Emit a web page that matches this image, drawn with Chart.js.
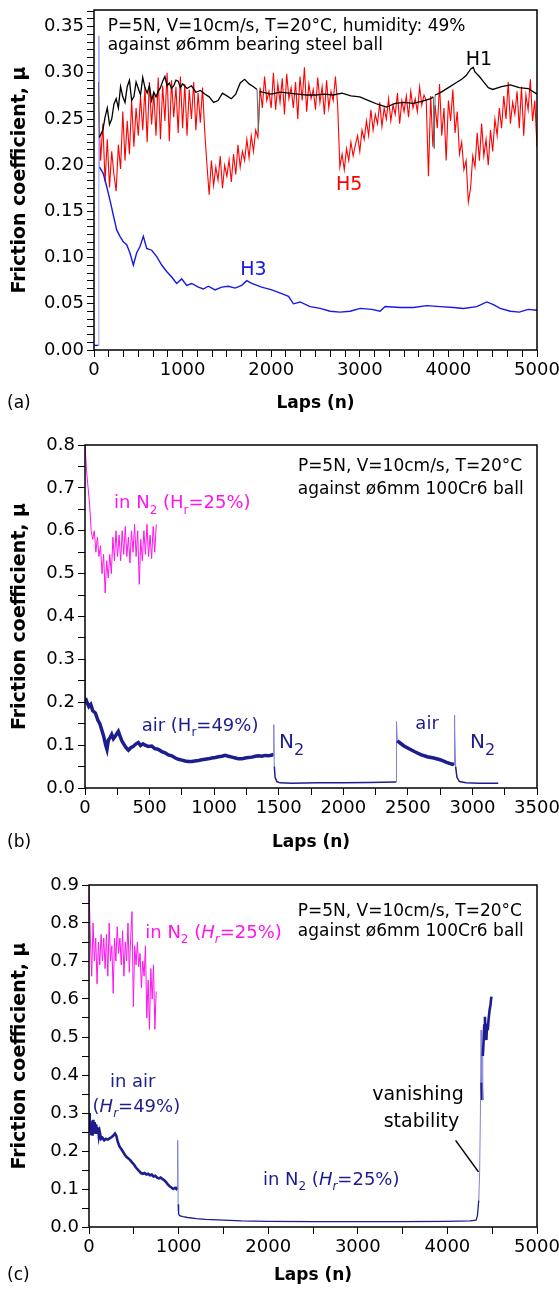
<!DOCTYPE html>
<html>
<head>
<meta charset="utf-8">
<script src="https://cdn.jsdelivr.net/npm/chart.js@4.4.1/dist/chart.umd.min.js"></script>
<style>
  html, body { margin: 0; padding: 0; background: #fff; }
  body { width: 559px; height: 1293px; position: relative; overflow: hidden; }
  canvas { position: absolute; left: 0; }
</style>
</head>
<body>
<canvas id="pa" width="559" height="430" style="top:0px"></canvas>
<canvas id="pb" width="559" height="430" style="top:430px"></canvas>
<canvas id="pc" width="559" height="433" style="top:860px"></canvas>
<script>
// ---- tick labels ----
const aXTicks = [0, 1000, 2000, 3000, 4000, 5000];
const aYTicks = [0, 0.05, 0.10, 0.15, 0.20, 0.25, 0.30, 0.35];
const bXTicks = [0, 500, 1000, 1500, 2000, 2500, 3000, 3500];
const bYTicks = [0, 0.1, 0.2, 0.3, 0.4, 0.5, 0.6, 0.7, 0.8];
const cXTicks = [0, 1000, 2000, 3000, 4000, 5000];
const cYTicks = [0, 0.1, 0.2, 0.3, 0.4, 0.5, 0.6, 0.7, 0.8, 0.9];

// ---- (a) H1, black ----
const h1Laps = [50, 60, 100, 125, 150, 175, 200, 225, 250, 275, 300, 325, 350, 375, 400, 425, 450, 475, 500, 525,
  550, 575, 600, 625, 650, 675, 700, 725, 750, 775, 800, 825, 850, 875, 900, 925, 950, 975, 1000, 1050,
  1100, 1150, 1200, 1250, 1300, 1350, 1400, 1450, 1500, 1550, 1600, 1650, 1700, 1750, 1800, 1840, 1855, 1870, 1900, 2000,
  2100, 2200, 2300, 2400, 2500, 2600, 2700, 2800, 2900, 3000, 3100, 3200, 3300, 3400, 3500, 3600, 3700, 3800, 3830, 3840,
  3850, 3900, 4000, 4100, 4150, 4200, 4250, 4280, 4300, 4350, 4400, 4450, 4500, 4600, 4700, 4800, 4900, 5000];
const h1Mu = [0.29, 0.23, 0.238, 0.252, 0.262, 0.244, 0.25, 0.266, 0.272, 0.262, 0.285, 0.274, 0.268, 0.285, 0.292, 0.27, 0.274, 0.29, 0.283, 0.276,
  0.295, 0.284, 0.278, 0.286, 0.27, 0.279, 0.274, 0.28, 0.284, 0.291, 0.296, 0.286, 0.289, 0.283, 0.286, 0.292, 0.291, 0.284, 0.288, 0.283,
  0.286, 0.279, 0.281, 0.277, 0.274, 0.268, 0.27, 0.278, 0.275, 0.272, 0.277, 0.289, 0.293, 0.288, 0.285, 0.282, 0.236, 0.28, 0.279, 0.277,
  0.279, 0.278, 0.277, 0.276, 0.276, 0.277, 0.276, 0.278, 0.275, 0.274, 0.27, 0.266, 0.263, 0.267, 0.268, 0.267, 0.269, 0.272, 0.274, 0.218,
  0.276, 0.278, 0.284, 0.29, 0.293, 0.297, 0.304, 0.306, 0.301, 0.296, 0.29, 0.284, 0.282, 0.285, 0.287, 0.284, 0.283, 0.277];

// ---- (a) H3, blue ----
const h3Laps = [0, 50, 55, 62, 105, 143, 181, 218, 256, 293, 331, 369, 406, 444, 481, 519, 557, 595, 651, 708,
  764, 820, 877, 933, 990, 1046, 1103, 1178, 1234, 1291, 1366, 1441, 1517, 1592, 1667, 1724, 1780, 1893, 2006, 2119,
  2195, 2251, 2326, 2439, 2552, 2665, 2778, 2891, 3004, 3135, 3229, 3285, 3455, 3606, 3756, 3907, 4057, 4170, 4320, 4433,
  4508, 4584, 4700, 4800, 4900, 5000];
const h3Mu = [0.005, 0.005, 0.34, 0.198, 0.191, 0.177, 0.162, 0.146, 0.13, 0.123, 0.117, 0.114, 0.105, 0.092, 0.105, 0.112, 0.123, 0.11, 0.108, 0.101,
  0.092, 0.085, 0.079, 0.072, 0.077, 0.07, 0.072, 0.068, 0.066, 0.069, 0.065, 0.068, 0.069, 0.067, 0.07, 0.075, 0.072, 0.068, 0.065, 0.061,
  0.058, 0.05, 0.052, 0.047, 0.045, 0.042, 0.041, 0.042, 0.045, 0.044, 0.042, 0.047, 0.046, 0.046, 0.048, 0.047, 0.046, 0.045, 0.047, 0.052,
  0.049, 0.045, 0.042, 0.041, 0.044, 0.043];

// ---- (a) H5, red (sampled every 25 laps from lap 50) ----
const h5Start = 50, h5Step = 25;
const h5Mu = [
  0.268, 0.205, 0.245, 0.182, 0.228, 0.176, 0.215, 0.19, 0.172, 0.222,
  0.196, 0.258, 0.205, 0.248, 0.212, 0.27, 0.22, 0.262, 0.232, 0.275,
  0.238, 0.284, 0.225, 0.29, 0.244, 0.278, 0.232, 0.295, 0.228, 0.286,
  0.248, 0.3, 0.226, 0.292, 0.252, 0.285, 0.235, 0.296, 0.24, 0.288,
  0.232, 0.282, 0.25, 0.29, 0.238, 0.278, 0.246, 0.284, 0.236, 0.2,
  0.168, 0.205, 0.178, 0.198, 0.184, 0.21, 0.175, 0.2, 0.188, 0.206,
  0.182, 0.212, 0.19, 0.222, 0.198, 0.215, 0.205, 0.228, 0.208, 0.232,
  0.215, 0.238, 0.23, 0.284, 0.262, 0.296, 0.27, 0.28, 0.262, 0.3,
  0.26, 0.288, 0.268, 0.294, 0.255, 0.299, 0.272, 0.284, 0.262, 0.29,
  0.25, 0.296, 0.27, 0.306, 0.258, 0.288, 0.272, 0.282, 0.26, 0.295,
  0.268, 0.285, 0.255, 0.292, 0.262, 0.28, 0.27, 0.296, 0.265, 0.198,
  0.212, 0.195, 0.218, 0.205, 0.225, 0.21, 0.222, 0.232, 0.215, 0.238,
  0.228, 0.248, 0.232, 0.26, 0.238, 0.255, 0.245, 0.268, 0.242, 0.262,
  0.25, 0.272, 0.248, 0.265, 0.255, 0.278, 0.245, 0.27, 0.258, 0.275,
  0.252, 0.28, 0.262, 0.272, 0.258, 0.285, 0.265, 0.276, 0.27, 0.188,
  0.275, 0.22, 0.265, 0.24, 0.288, 0.232, 0.262, 0.205, 0.27, 0.248,
  0.282, 0.235, 0.258, 0.212, 0.225, 0.195, 0.205, 0.16, 0.175, 0.21,
  0.198, 0.235, 0.205, 0.245, 0.21, 0.228, 0.2, 0.238, 0.215, 0.25,
  0.232, 0.262, 0.24, 0.275, 0.25, 0.29, 0.245, 0.268, 0.255, 0.28,
  0.24, 0.285, 0.232, 0.276, 0.26, 0.293, 0.248, 0.27, 0.22];

// ---- (b) in N2, magenta (every 12 laps from 0) ----
const bN2Start = 0, bN2Step = 12;
const bN2Mu = [0.8, 0.74, 0.7, 0.66, 0.6, 0.58, 0.6, 0.55, 0.585, 0.54,
  0.565, 0.5, 0.545, 0.455, 0.53, 0.49, 0.545, 0.5, 0.585, 0.53,
  0.6, 0.54, 0.59, 0.53, 0.6, 0.545, 0.61, 0.54, 0.585, 0.525,
  0.6, 0.55, 0.615, 0.54, 0.6, 0.475, 0.58, 0.53, 0.6, 0.545,
  0.615, 0.54, 0.59, 0.535, 0.61, 0.55, 0.615];

// ---- (b) air / N2 alternation, navy ----
const bAirLaps = [0, 4, 15, 30, 45, 60, 80, 100, 115, 130, 145, 160, 170, 181, 195, 207, 220, 233, 245, 258,
  270, 285, 297, 315, 336, 355, 374, 395, 413, 430, 448, 465, 490, 517, 540, 568, 595, 620, 645, 672,
  700, 723, 750, 775, 800, 827, 850, 879, 905, 930, 955, 982, 1010, 1034, 1060, 1085, 1110, 1137, 1165, 1189,
  1215, 1240, 1265, 1292, 1320, 1344, 1370, 1395, 1420, 1447, 1460, 1462, 1466, 1472, 1485, 1510, 1600, 1800, 2000, 2200,
  2410, 2412, 2418, 2440, 2470, 2506, 2550, 2600, 2650, 2700, 2750, 2800, 2845, 2858, 2860, 2864, 2870, 2880, 2900, 2950,
  3050, 3200];
const bAirMu = [0.3, 0.21, 0.2, 0.19, 0.195, 0.18, 0.175, 0.158, 0.15, 0.135, 0.12, 0.1, 0.09, 0.112, 0.118, 0.125, 0.115, 0.12, 0.126, 0.132,
  0.122, 0.11, 0.104, 0.095, 0.088, 0.094, 0.097, 0.103, 0.106, 0.099, 0.103, 0.1, 0.097, 0.098, 0.092, 0.09, 0.085, 0.082, 0.077, 0.075,
  0.07, 0.067, 0.065, 0.063, 0.062, 0.062, 0.063, 0.064, 0.066, 0.067, 0.068, 0.07, 0.071, 0.073, 0.074, 0.076, 0.074, 0.072, 0.07, 0.068,
  0.068, 0.07, 0.071, 0.072, 0.074, 0.075, 0.074, 0.076, 0.075, 0.077, 0.078, 0.148, 0.05, 0.025, 0.015, 0.012, 0.011, 0.012, 0.012, 0.013,
  0.014, 0.155, 0.11, 0.105, 0.098, 0.092, 0.085, 0.078, 0.073, 0.07, 0.066, 0.06, 0.055, 0.057, 0.17, 0.14, 0.05, 0.025, 0.015, 0.012,
  0.011, 0.011];

// ---- (c) in N2, magenta (every 15 laps from 0) ----
const cN2Start = 0, cN2Step = 15;
const cN2Mu = [0.9, 0.76, 0.66, 0.8, 0.7, 0.76, 0.64, 0.75, 0.69, 0.77,
  0.7, 0.76, 0.68, 0.77, 0.66, 0.8, 0.7, 0.74, 0.615, 0.76,
  0.7, 0.79, 0.72, 0.76, 0.69, 0.78, 0.66, 0.75, 0.7, 0.8,
  0.67, 0.76, 0.83, 0.58, 0.74, 0.69, 0.75, 0.685, 0.72, 0.63,
  0.7, 0.66, 0.74, 0.55, 0.65, 0.52, 0.68, 0.6, 0.69, 0.52, 0.62];

// ---- (c) air then N2, navy ----
const cAirLaps = [0, 8, 16, 24, 32, 40, 48, 56, 64, 72, 80, 90, 100, 110, 120, 135, 150, 170, 190, 210,
  230, 250, 270, 290, 305, 320, 340, 360, 380, 400, 420, 440, 460, 480, 500, 520, 540, 560, 580, 600,
  620, 640, 660, 680, 700, 720, 740, 760, 780, 800, 820, 840, 860, 880, 900, 920, 940, 960, 975, 985,
  990, 995, 1000, 1010, 1050, 1100, 1200, 1300, 1500, 1700, 2000, 2500, 3000, 3500, 4000, 4250, 4320, 4335, 4350, 4360,
  4368, 4376, 4382, 4388, 4395, 4403, 4411, 4419, 4427, 4435, 4443, 4451, 4461, 4471, 4481, 4491];
const cAirMu = [0.3, 0.25, 0.28, 0.245, 0.275, 0.24, 0.282, 0.25, 0.276, 0.245, 0.27, 0.248, 0.262, 0.238, 0.25, 0.232, 0.235, 0.228, 0.232, 0.23,
  0.233, 0.236, 0.24, 0.246, 0.24, 0.225, 0.212, 0.205, 0.198, 0.19, 0.184, 0.18, 0.176, 0.17, 0.165, 0.158, 0.152, 0.147, 0.142, 0.14,
  0.142, 0.138, 0.14, 0.136, 0.138, 0.133, 0.135, 0.13, 0.128, 0.13, 0.126, 0.123, 0.118, 0.112, 0.107, 0.104, 0.1, 0.103, 0.1, 0.105,
  0.228, 0.06, 0.035, 0.03, 0.027, 0.025, 0.022, 0.02, 0.018, 0.016, 0.015, 0.014, 0.014, 0.014, 0.015, 0.016, 0.018, 0.03, 0.07, 0.145,
  0.29, 0.518, 0.38, 0.334, 0.45, 0.483, 0.53, 0.553, 0.51, 0.492, 0.535, 0.518, 0.55, 0.571, 0.585, 0.606];

// ---- helpers ----
const FONT = 'DejaVu Sans';
const BLACK = '#000000', RED = '#ff0000', BLUE = '#1717e6', MAG = '#ff14ec', NAVY = '#1d1d8f';

function pts(xs, ys) { return ys.map((v, i) => ({ x: xs[i], y: v })); }
function grid(start, step, ys) { return ys.map((v, i) => ({ x: start + i * step, y: v })); }

function withMinors(majors, div, max) {
  const step = (majors[1] - majors[0]) / div;
  const out = [];
  for (let i = 0; majors[0] + i * step <= max + 1e-9; i++) out.push(majors[0] + i * step);
  return out;
}

function axis(majors, div, min, max, decimals, fitSize, vertical) {
  return {
    type: 'linear', min, max,
    afterBuildTicks: s => { s.ticks = withMinors(majors, div, max).map(v => ({ value: v })); },
    ticks: {
      autoSkip: false, maxRotation: 0, minRotation: 0, color: '#000', padding: 3,
      font: { family: FONT, size: 18 },
      callback: v => majors.some(m => Math.abs(m - v) < 1e-9) ? v.toFixed(decimals) : ''
    },
    grid: { drawOnChartArea: false, drawTicks: true, tickLength: 7, tickColor: '#000', tickWidth: 1 },
    border: { display: false },
    afterFit: s => {
      if (vertical) { s.width = fitSize; s.paddingTop = 0; s.paddingBottom = 0; }
      else { s.height = fitSize; s.paddingLeft = 0; s.paddingRight = 0; }
    }
  };
}

function line(data, color, width, segment) {
  return { data, showLine: true, borderColor: color, borderWidth: width, pointRadius: 0, tension: 0, segment };
}

const jump = lim => c => Math.abs(c.p1.parsed.y - c.p0.parsed.y) > lim;
const inAir = c => c.p0.parsed.y > 0.04 && c.p1.parsed.y > 0.04;

function drawRich(ctx, n, px, py) {
  const size = n.size || 17, subScale = n.sub || 0.65;
  const fontFor = p => (p.it ? 'italic ' : '') + Math.round(p.s ? size * subScale : size) + 'px "' + FONT + '"';
  let w = 0;
  for (const p of n.parts) { ctx.font = fontFor(p); w += ctx.measureText(p.t).width; }
  let cx = n.align === 'right' ? px - w : n.align === 'center' ? px - w / 2 : px;
  ctx.fillStyle = n.color || '#000';
  ctx.textAlign = 'left';
  ctx.textBaseline = 'middle';
  for (const p of n.parts) {
    ctx.font = fontFor(p);
    ctx.fillText(p.t, cx, p.s ? py + size * 0.38 : py);
    cx += ctx.measureText(p.t).width;
  }
}

const panelPlugin = {
  id: 'panel',
  afterDraw(chart, args, opts) {
    const { ctx, chartArea: a } = chart;
    const x = chart.scales.x, y = chart.scales.y;
    ctx.save();
    ctx.strokeStyle = '#000';
    ctx.lineWidth = 1.5;
    ctx.strokeRect(a.left, a.top, a.right - a.left, a.bottom - a.top);

    ctx.fillStyle = '#000';
    ctx.textAlign = 'center';
    ctx.textBaseline = 'middle';
    ctx.font = 'bold 19px "' + FONT + '"';
    ctx.save();
    ctx.translate(20, (a.top + a.bottom) / 2);
    ctx.rotate(-Math.PI / 2);
    ctx.fillText('Friction coefficient, μ', 0, 0);
    ctx.restore();
    ctx.font = 'bold 17px "' + FONT + '"';
    ctx.fillText('Laps (n)', (a.left + a.right) / 2, opts.labelY);
    ctx.font = '17px "' + FONT + '"';
    ctx.textAlign = 'left';
    ctx.fillText(opts.letter, 7, opts.labelY);

    for (const l of opts.lines || []) {
      ctx.strokeStyle = '#000';
      ctx.lineWidth = 1.5;
      ctx.beginPath();
      ctx.moveTo(x.getPixelForValue(l[0]), y.getPixelForValue(l[1]));
      ctx.lineTo(x.getPixelForValue(l[2]), y.getPixelForValue(l[3]));
      ctx.stroke();
    }
    for (const n of opts.notes) drawRich(ctx, n, x.getPixelForValue(n.x), y.getPixelForValue(n.y));
    ctx.restore();
  }
};

function makeChart(id, cfg) {
  return new Chart(document.getElementById(id), {
    type: 'scatter',
    data: { datasets: cfg.datasets },
    options: {
      responsive: false, animation: false, devicePixelRatio: 1, events: [],
      layout: { padding: { top: cfg.top, right: 22, left: 0, bottom: 0 } },
      scales: { x: cfg.x, y: cfg.y },
      plugins: { legend: { display: false }, tooltip: { enabled: false }, panel: cfg.panel }
    },
    plugins: [panelPlugin]
  });
}

const T = t => ({ t });
const S = t => ({ t, s: true });
const I = t => ({ t, it: true });
const IS = t => ({ t, it: true, s: true });

// ---- (a) ----
makeChart('pa', {
  top: 10,
  x: axis(aXTicks, 6, 0, 5000, 0, 80, false),
  y: axis(aYTicks, 6, 0, 0.368, 2, 94, true),
  datasets: [
    line(pts(h1Laps, h1Mu), BLACK, 1.3, { borderColor: c => jump(0.03)(c) ? '#666666' : undefined, borderWidth: c => jump(0.03)(c) ? 1 : undefined }),
    line(pts(h3Laps, h3Mu), BLUE, 1.4, { borderColor: c => jump(0.05)(c) ? '#9a9af2' : undefined, borderWidth: c => jump(0.05)(c) ? 1 : undefined }),
    line(grid(h5Start, h5Step, h5Mu), RED, 1.1)
  ],
  panel: {
    letter: '(a)', labelY: 404,
    notes: [
      { x: 154, y: 0.35, align: 'left', size: 17, parts: [T('P=5N, V=10cm/s, T=20°C, humidity: 49%')] },
      { x: 154, y: 0.329, align: 'left', size: 17, parts: [T('against ø6mm bearing steel ball')] },
      { x: 4345, y: 0.314, align: 'center', size: 19, parts: [T('H1')] },
      { x: 2879, y: 0.179, align: 'center', size: 19, color: RED, parts: [T('H5')] },
      { x: 1800, y: 0.087, align: 'center', size: 19, color: BLUE, parts: [T('H3')] }
    ]
  }
});

// ---- (b) ----
makeChart('pb', {
  top: 15,
  x: axis(bXTicks, 2, 0, 3500, 0, 72, false),
  y: axis(bYTicks, 2, 0, 0.8, 1, 85, true),
  datasets: [
    line(pts(bAirLaps, bAirMu), NAVY, 1.5, {
      borderColor: c => jump(0.028)(c) ? '#8080d8' : undefined,
      borderWidth: c => jump(0.028)(c) ? 1 : (inAir(c) ? 3.5 : 1.5)
    }),
    line(grid(bN2Start, bN2Step, bN2Mu), MAG, 1)
  ],
  panel: {
    letter: '(b)', labelY: 413,
    notes: [
      { x: 3385, y: 0.75, align: 'right', size: 17, parts: [T('P=5N, V=10cm/s, T=20°C')] },
      { x: 3397, y: 0.697, align: 'right', size: 17, parts: [T('against ø6mm 100Cr6 ball')] },
      { x: 225, y: 0.663, align: 'left', size: 18, color: MAG, parts: [T('in N'), S('2'), T(' (H'), S('r'), T('=25%)')] },
      { x: 439, y: 0.144, align: 'left', size: 18, color: NAVY, parts: [T('air (H'), S('r'), T('=49%)')] },
      { x: 1503, y: 0.105, align: 'left', size: 20, sub: 0.8, color: NAVY, parts: [T('N'), S('2')] },
      { x: 2558, y: 0.148, align: 'left', size: 18, color: NAVY, parts: [T('air')] },
      { x: 2981, y: 0.105, align: 'left', size: 20, sub: 0.8, color: NAVY, parts: [T('N'), S('2')] }
    ]
  }
});

// ---- (c) ----
makeChart('pc', {
  top: 25,
  x: axis(cXTicks, 2, 0, 5000, 0, 66, false),
  y: axis(cYTicks, 2, 0, 0.9, 1, 89, true),
  datasets: [
    line(pts(cAirLaps, cAirMu), NAVY, 1.5, {
      borderColor: c => jump(0.06)(c) ? '#8080d8' : undefined,
      borderWidth: c => jump(0.06)(c) ? 1 : (inAir(c) ? 2.6 : 1.3)
    }),
    line(grid(cN2Start, cN2Step, cN2Mu), MAG, 1)
  ],
  panel: {
    letter: '(c)', labelY: 416,
    lines: [[4091, 0.228, 4347, 0.145]],
    notes: [
      { x: 4832, y: 0.83, align: 'right', size: 17, parts: [T('P=5N, V=10cm/s, T=20°C')] },
      { x: 4852, y: 0.777, align: 'right', size: 17, parts: [T('against ø6mm 100Cr6 ball')] },
      { x: 628, y: 0.773, align: 'left', size: 18, color: MAG, parts: [T('in N'), S('2'), T(' ('), I('H'), IS('r'), T('=25%)')] },
      { x: 488, y: 0.382, align: 'center', size: 18, color: NAVY, parts: [T('in air')] },
      { x: 40, y: 0.316, align: 'left', size: 18, color: NAVY, parts: [T('('), I('H'), IS('r'), T('=49%)')] },
      { x: 1941, y: 0.123, align: 'left', size: 18, color: NAVY, parts: [T('in N'), S('2'), T(' ('), I('H'), IS('r'), T('=25%)')] },
      { x: 3671, y: 0.347, align: 'center', size: 19, parts: [T('vanishing')] },
      { x: 3711, y: 0.277, align: 'center', size: 19, parts: [T('stability')] }
    ]
  }
});
</script>
</body>
</html>
